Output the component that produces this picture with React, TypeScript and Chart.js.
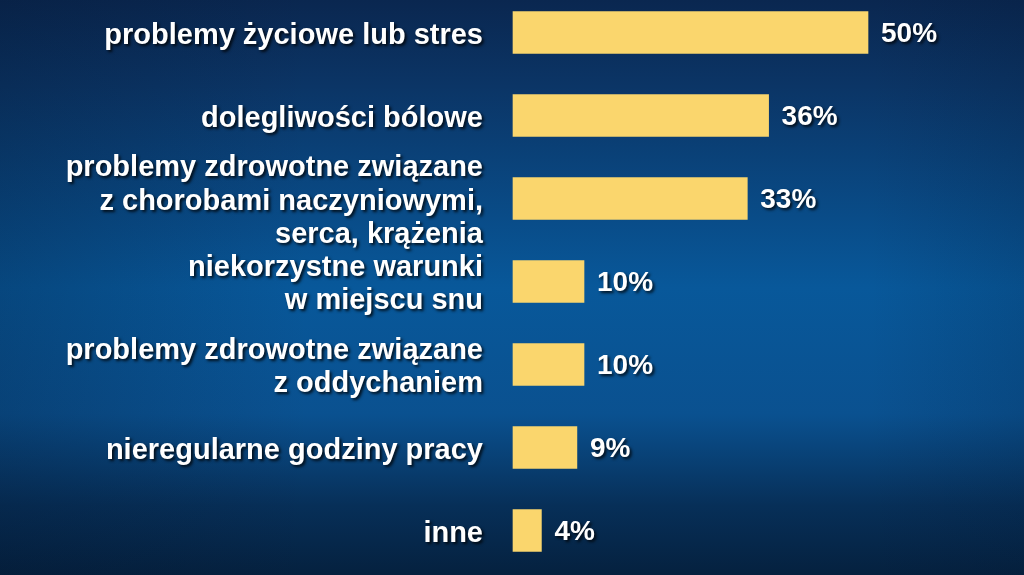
import React, { useEffect, useRef } from "react";
import { Chart, registerables } from "chart.js";

Chart.register(...registerables);

const categories: (string | string[])[] = [
  "problemy życiowe lub stres",
  "dolegliwości bólowe",
  ["problemy zdrowotne związane", "z chorobami naczyniowymi,", "serca, krążenia"],
  ["niekorzystne warunki", "w miejscu snu"],
  ["problemy zdrowotne związane", "z oddychaniem"],
  "nieregularne godziny pracy",
  "inne",
];
const values: number[] = [50, 36, 33, 10, 10, 9, 4];
const valueLabels: string[] = ["50%", "36%", "33%", "10%", "10%", "9%", "4%"];

const FONT = "'Liberation Sans', Arial, sans-serif";

const bgPlugin = {
  id: "bgShadow",
  beforeDraw(chart: any) {
    const { ctx, width, height } = chart;
    ctx.save();
    const g = ctx.createLinearGradient(0, 0, 0, height);
    g.addColorStop(0, "#0a2750");
    g.addColorStop(0.15, "#0b3566");
    g.addColorStop(0.5, "#08589a");
    g.addColorStop(0.72, "#0a5190");
    g.addColorStop(0.88, "#072f58");
    g.addColorStop(1, "#05213f");
    ctx.fillStyle = g;
    ctx.fillRect(0, 0, width, height);
    const h = ctx.createLinearGradient(0, 0, width, 0);
    h.addColorStop(0, "rgba(3,20,45,0.25)");
    h.addColorStop(0.3, "rgba(3,20,45,0)");
    h.addColorStop(0.85, "rgba(3,20,45,0)");
    h.addColorStop(1, "rgba(3,20,45,0.15)");
    ctx.fillStyle = h;
    ctx.fillRect(0, 0, width, height);
    ctx.restore();
    ctx.shadowColor = "rgba(0,0,0,0.8)";
    ctx.shadowOffsetX = 2;
    ctx.shadowOffsetY = 2;
    ctx.shadowBlur = 3;
  },
  beforeDatasetsDraw(chart: any) {
    const ctx = chart.ctx;
    ctx.shadowColor = "rgba(0,0,0,0)";
    ctx.shadowOffsetX = 0;
    ctx.shadowOffsetY = 0;
    ctx.shadowBlur = 0;
  },
  afterDatasetsDraw(chart: any) {
    const ctx = chart.ctx;
    const meta = chart.getDatasetMeta(0);
    ctx.save();
    ctx.shadowColor = "rgba(0,0,0,0.8)";
    ctx.shadowOffsetX = 2;
    ctx.shadowOffsetY = 2;
    ctx.shadowBlur = 3;
    ctx.fillStyle = "#ffffff";
    ctx.font = `bold 28px ${FONT}`;
    ctx.textAlign = "left";
    ctx.textBaseline = "middle";
    meta.data.forEach((bar: any, i: number) => {
      ctx.fillText(valueLabels[i], bar.x + 13, bar.y + 2);
    });
    ctx.restore();
  },
};

export default function App() {
  const ref = useRef<HTMLCanvasElement | null>(null);
  useEffect(() => {
    if (!ref.current) return;
    const chart = new Chart(ref.current, {
      type: "bar",
      data: {
        labels: categories,
        datasets: [
          {
            data: values,
            backgroundColor: "#fad66d",
            borderWidth: 0,
            barThickness: 42,
            clip: false as any,
          },
        ],
      },
      options: {
        indexAxis: "y",
        animation: false,
        responsive: false,
        maintainAspectRatio: false,
        layout: { padding: { top: 32.5, bottom: 44.5, left: 0, right: 14 } },
        plugins: {
          legend: { display: false },
          tooltip: { enabled: false },
        },
        scales: {
          x: {
            display: false,
            min: 0,
            max: 70,
          },
          y: {
            offset: false,
            grid: { display: false, drawTicks: false },
            border: { display: false },
            afterFit: (scale: any) => {
              scale.width = 513;
              scale.paddingTop = 0;
              scale.paddingBottom = 0;
            },
            ticks: {
              color: "#ffffff",
              padding: 30,
              autoSkip: false,
              labelOffset: 3,
              font: { family: FONT, size: 29, weight: "bold", lineHeight: 1.17 },
            },
          },
        },
      },
      plugins: [bgPlugin],
    });
    return () => chart.destroy();
  }, []);
  return (
    <div style={{ position: "fixed", left: 0, top: 0, width: 1024, height: 575 }}>
      <canvas ref={ref} width={1024} height={575} style={{ display: "block" }} />
    </div>
  );
}
